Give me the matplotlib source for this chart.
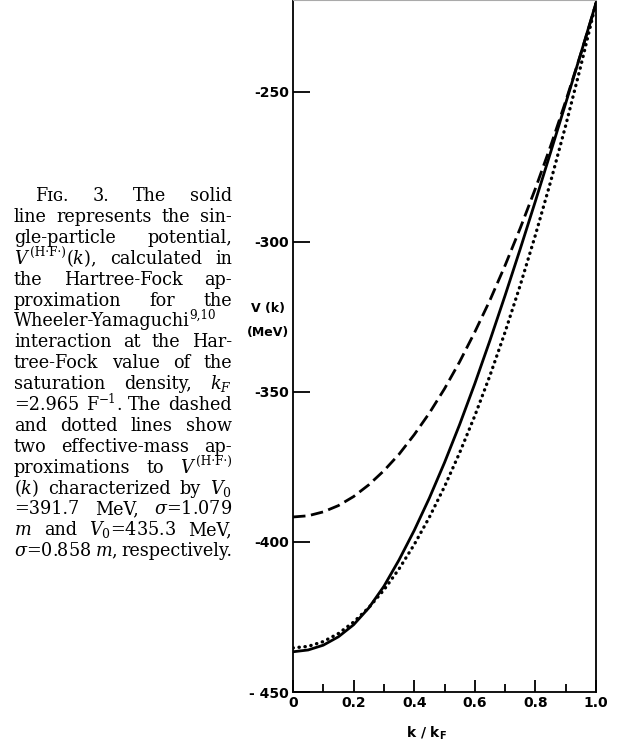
import re
import matplotlib
matplotlib.use("Agg")
import matplotlib.pyplot as plt
from matplotlib.ticker import MultipleLocator

# k / k_F sample points and the three potentials (MeV)
k_values = [0.0, 0.05, 0.1, 0.15, 0.2, 0.25, 0.3, 0.35, 0.4, 0.45, 0.5,
            0.55, 0.6, 0.65, 0.7, 0.75, 0.8, 0.85, 0.9, 0.95, 1.0]
v_hartree_fock = [-436.6, -436.0, -434.4, -431.6, -427.6, -422.0, -414.8,
                  -406.0, -396.2, -385.4, -373.6, -360.9, -347.3, -332.9,
                  -317.9, -302.4, -286.5, -270.3, -253.9, -237.3, -220.5]
v_dashed = [-391.7, -391.3, -390.0, -387.9, -384.9, -381.0, -376.3, -370.8,
            -364.3, -357.1, -349.0, -340.0, -330.1, -319.5, -307.9, -295.5,
            -282.3, -268.2, -253.2, -237.4, -220.7]
v_dotted = [-435.3, -434.8, -433.2, -430.5, -426.7, -421.9, -416.0, -409.0,
            -400.9, -391.8, -381.6, -370.3, -358.0, -344.6, -330.1, -314.5,
            -297.8, -280.1, -261.3, -241.4, -220.5]

x_ticks = [0.0, 0.2, 0.4, 0.6, 0.8, 1.0]
x_tick_labels = ["0", "0.2", "0.4", "0.6", "0.8", "1.0"]
y_ticks = [-450, -400, -350, -300, -250]
y_tick_labels = ["- 450", "-400", "-350", "-300", "-250"]

# {^...} marks a superscript piece
caption_lines = [
    "F\u026a\u0262. 3. The solid",
    "line represents the sin-",
    "gle-particle potential,",
    "$V${^(H\u00b7F\u00b7)}$(k)$, calculated in",
    "the Hartree-Fock ap-",
    "proximation for the",
    "Wheeler-Yamaguchi{^9,10}",
    "interaction at the Har-",
    "tree-Fock value of the",
    r"saturation density, $k_F$",
    "=2.965 F{^\u22121}. The dashed",
    "and dotted lines show",
    "two effective-mass ap-",
    "proximations to $V${^(H\u00b7F\u00b7)}",
    r"$(k)$ characterized by $V_0$",
    r"=391.7 MeV, $\sigma$=1.079",
    r"$m$ and $V_0$=435.3 MeV,",
    r"$\sigma$=0.858 $m$, respectively.",
]

W, H = 622, 746
fig = plt.figure(figsize=(W / 100, H / 100), dpi=100)
ax = fig.add_axes([293 / W, 1 - 692 / H, (596 - 293) / W, 692 / H])

ax.plot(k_values, v_hartree_fock, color="black", lw=2.0)
ax.plot(k_values, v_dashed, color="black", lw=2.0, linestyle=(0, (4.5, 2.0)))
ax.plot(k_values, v_dotted, color="black", lw=2.4, linestyle=(0, (0.1, 1.7)),
        dash_capstyle="round")

ax.set_xlim(0, 1.0)
ax.set_ylim(-450, -219.5)
ax.set_xticks(x_ticks)
ax.set_xticklabels(x_tick_labels)
ax.xaxis.set_minor_locator(MultipleLocator(0.1))
ax.set_yticks(y_ticks)
ax.set_yticklabels(y_tick_labels)

ax.tick_params(axis="x", which="major", direction="in", length=9, width=1.3,
               pad=3, labelsize=10)
ax.tick_params(axis="x", which="minor", direction="in", length=6, width=1.3)
ax.tick_params(axis="y", which="major", direction="in", length=12, width=1.3,
               pad=3, labelsize=10)
for lab in ax.get_xticklabels() + ax.get_yticklabels():
    lab.set_fontweight("bold")

for side in ["left", "right", "bottom"]:
    ax.spines[side].set_linewidth(1.3)
ax.spines["top"].set_linewidth(0.8)
ax.spines["top"].set_color("#aaaaaa")

fig.text(268 / W, 1 - 308 / H, "V (k)", ha="center", va="center",
         fontsize=9, fontweight="bold")
fig.text(268 / W, 1 - 332 / H, "(MeV)", ha="center", va="center",
         fontsize=9, fontweight="bold")
fig.text(427 / W, 1 - 733 / H, r"k / k$_{\mathbf{F}}$", ha="center",
         va="center", fontsize=10, fontweight="bold", math_fontfamily="dejavusans")

# justified caption on the left, one font size for every line
renderer = fig.canvas.get_renderer()
x_left, x_right = 14, 232
min_gap = 3.0
sup_scale = 0.68


def caption_kw(size):
    return dict(family=["DejaVu Serif", "DejaVu Sans"], fontsize=size,
                math_fontfamily="dejavuserif", va="baseline", ha="left")


def draw_word(word, x_px, base_px, size):
    """Draw one word (with optional superscript pieces), return its width."""
    pieces = [p for p in re.split(r"(\{\^.*?\})", word) if p]
    x = x_px
    drawn = []
    for p in pieces:
        if p.startswith("{^"):
            s = size * sup_scale
            y_px = base_px - size * 0.42 * 100 / 72
            t = fig.text(x / W, 1 - y_px / H, p[2:-1], **caption_kw(s))
        else:
            t = fig.text(x / W, 1 - base_px / H, p, **caption_kw(size))
        x += t.get_window_extent(renderer).width
        drawn.append(t)
    return x - x_px, drawn


def word_width(word, size):
    w, drawn = draw_word(word, 0, 400, size)
    for t in drawn:
        t.remove()
    return w


probe = 14.0
size = probe
for i, line in enumerate(caption_lines):
    start = 35 if i == 0 else x_left
    words = line.split(" ")
    total = sum(word_width(w, probe) for w in words)
    room = x_right - start - min_gap * (len(words) - 1)
    size = min(size, probe * room / total)

for i, line in enumerate(caption_lines):
    base = 201 + i * 20.9
    start = 35 if i == 0 else x_left
    words = line.split(" ")
    widths = [word_width(w, size) for w in words]
    gap = (x_right - start - sum(widths)) / max(len(words) - 1, 1)
    x = start
    for w, wd in zip(words, widths):
        draw_word(w, x, base, size)
        x += wd + gap

fig.savefig("out.png", dpi=100)
